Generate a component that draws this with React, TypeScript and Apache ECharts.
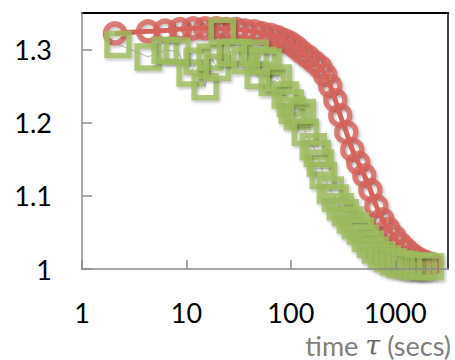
import React, { useEffect, useRef } from "react";
import * as echarts from "echarts";

const redTime = [2.07, 4.29, 6.25, 8.7, 11.6, 15.1, 19.3, 24, 30, 36.5, 44.6, 53.2, 63.4, 74.1, 86.4, 98.7, 112.7, 128.6, 146.9, 167.6, 191.4, 213.7, 238.6, 266.6, 297.6, 339.8, 387.9, 442.9, 505.4, 577.2, 659, 752, 859, 980, 1119, 1278, 1459, 1665, 1901, 2170];
const redValue = [1.322, 1.325, 1.326, 1.328, 1.329, 1.329, 1.329, 1.328, 1.328, 1.326, 1.325, 1.322, 1.32, 1.317, 1.313, 1.309, 1.303, 1.296, 1.29, 1.283, 1.276, 1.265, 1.25, 1.231, 1.21, 1.187, 1.163, 1.145, 1.128, 1.108, 1.086, 1.068, 1.055, 1.044, 1.034, 1.026, 1.019, 1.014, 1.01, 1.007];

const greenTime = [2.21, 4.29, 6.25, 8.14, 10.85, 12.66, 15.1, 16.87, 19.7, 21.99, 26.24, 31.3, 36.5, 45.6, 48.7, 54.4, 60.7, 66.3, 75.7, 88.4, 98.7, 103.1, 115.2, 128.6, 137.4, 164, 179.1, 191.4, 204.4, 238.6, 266.6, 297.6, 332.4, 371.1, 414.5, 462.9, 516.8, 577.2, 644.6, 735.8, 840.2, 959, 1095, 1250, 1427, 1629, 1860, 2170];
const greenValue = [1.307, 1.29, 1.299, 1.298, 1.268, 1.284, 1.249, 1.29, 1.276, 1.325, 1.296, 1.296, 1.285, 1.295, 1.265, 1.285, 1.283, 1.255, 1.261, 1.238, 1.227, 1.217, 1.208, 1.214, 1.187, 1.167, 1.158, 1.145, 1.128, 1.108, 1.097, 1.085, 1.077, 1.067, 1.059, 1.052, 1.042, 1.034, 1.026, 1.019, 1.014, 1.01, 1.007, 1.006, 1.004, 1.003, 1.004, 1.003];

const xTickLabels = [1, 10, 100, 1000];
const xRange = [1, 3200];
const yRange = [1, 1.35];
const yInterval = 0.1;
const axisTitle = ["time ", "τ", " (secs)"];

const RED = "#d5635b";
const GREEN = "#9dbd5c";
const AXIS_GRAY = "#8c8c8c";
const FONT = "Lato";

export default function App() {
  const ref = useRef<HTMLDivElement>(null);
  useEffect(() => {
    if (!ref.current) return;
    const chart = echarts.init(ref.current, undefined, { renderer: "svg" });
    const red = redTime.map((t, i) => [t, redValue[i]]);
    const green = greenTime.map((t, i) => [t, greenValue[i]]);
    const shadow = {
      shadowBlur: 3,
      shadowColor: "rgba(0,0,0,0.3)",
      shadowOffsetX: 1.5,
      shadowOffsetY: 2,
    };
    chart.setOption({
      animation: false,
      backgroundColor: "#fff",
      grid: {
        left: 82,
        right: 7,
        top: 13,
        bottom: 91,
        containLabel: false,
        outerBoundsMode: "none",
      },
      xAxis: [
        {
          type: "log",
          logBase: 10,
          min: xRange[0],
          max: xRange[1],
          axisLine: { show: true, lineStyle: { color: AXIS_GRAY, width: 1.5 } },
          axisTick: { show: true, inside: true, length: 9, lineStyle: { color: AXIS_GRAY, width: 1.5 } },
          minorTick: { show: false },
          splitLine: { show: false },
          axisLabel: {
            margin: 30,
            fontSize: 27,
            lineHeight: 27,
            fontFamily: FONT,
            color: "#000",
            showMaxLabel: false,
            formatter: (v: number) => {
              const hit = xTickLabels.find((t) => Math.abs(t - v) / t < 1e-6);
              return hit !== undefined ? String(hit) : "";
            },
          },
          z: 5,
        },
        {
          type: "value",
          position: "top",
          min: 0,
          max: 1,
          axisLine: { show: true, lineStyle: { color: "#000", width: 2 } },
          axisTick: { show: false },
          axisLabel: { show: false },
          splitLine: { show: false },
        },
      ],
      yAxis: [
        {
          type: "value",
          min: yRange[0],
          max: yRange[1],
          interval: yInterval,
          axisLine: { show: true, lineStyle: { color: AXIS_GRAY, width: 1.5 } },
          axisTick: { show: true, inside: true, length: 10, lineStyle: { color: AXIS_GRAY, width: 1.5 } },
          splitLine: { show: false },
          axisLabel: {
            margin: 30,
            fontSize: 27,
            fontFamily: FONT,
            color: "#000",
            showMaxLabel: false,
            padding: [7, 0, 0, 0],
            formatter: (v: number) => String(Math.round(v * 10) / 10),
          },
          z: 5,
        },
        {
          type: "value",
          position: "right",
          min: 0,
          max: 1,
          axisLine: { show: true, lineStyle: { color: "#000", width: 1.5 } },
          axisTick: { show: false },
          axisLabel: { show: false },
          splitLine: { show: false },
        },
      ],
      series: [
        {
          name: "red",
          type: "scatter",
          data: red,
          symbol: "circle",
          symbolSize: 19,
          itemStyle: { color: "rgba(0,0,0,0)", borderColor: RED, borderWidth: 5.5, ...shadow },
          z: 2,
        },
        {
          name: "greenLine",
          type: "line",
          data: green,
          showSymbol: false,
          symbol: "none",
          lineStyle: { color: "rgba(80,90,60,0.4)", width: 1 },
          z: 3,
        },
        {
          name: "green",
          type: "scatter",
          data: green,
          symbol: "rect",
          symbolSize: 22,
          itemStyle: { color: "rgba(0,0,0,0)", borderColor: GREEN, borderWidth: 5.5, ...shadow },
          z: 4,
        },
        {
          name: "redLine",
          type: "line",
          data: red,
          smooth: true,
          showSymbol: false,
          symbol: "none",
          lineStyle: { color: RED, width: 5 },
          z: 4,
        },
      ],
      graphic: [
        {
          type: "text",
          x: 451,
          y: 332,
          style: {
            text: `{a|${axisTitle[0]}}{b|${axisTitle[1]}}{a|${axisTitle[2]}}`,
            align: "right",
            verticalAlign: "top",
            rich: {
              a: { fontSize: 27, lineHeight: 26, fontFamily: FONT, fill: "#7f7f7f", color: "#7f7f7f" },
              b: {
                fontSize: 27,
                lineHeight: 26,
                fontFamily: "DejaVu Serif",
                fontStyle: "italic",
                fill: "#6a6a6a",
                color: "#6a6a6a",
              },
            },
          },
        },
      ],
    });
    return () => chart.dispose();
  }, []);
  return (
    <div
      ref={ref}
      style={{ position: "fixed", left: 0, top: 0, width: 455, height: 360 }}
    />
  );
}
